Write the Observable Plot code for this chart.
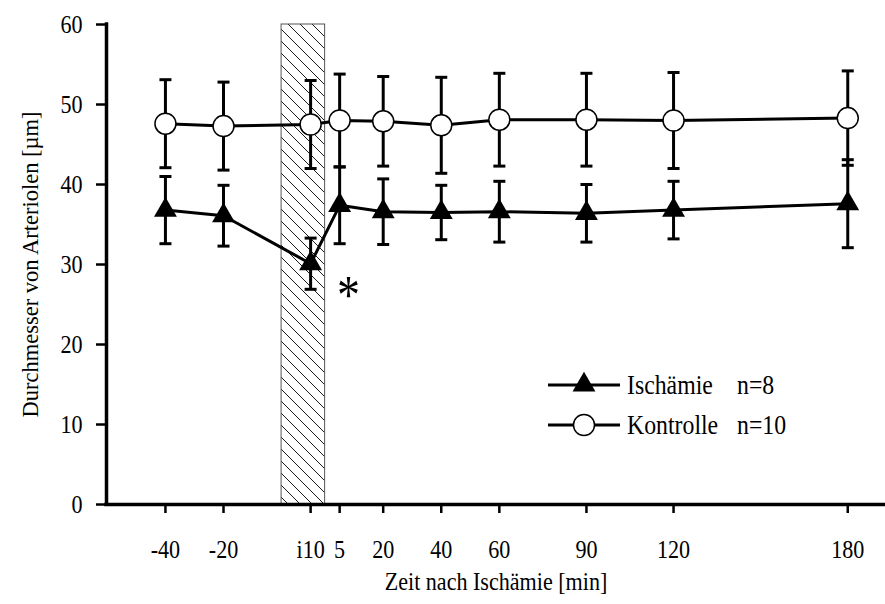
<!DOCTYPE html>
<html><head><meta charset="utf-8">
<script src="https://cdn.jsdelivr.net/npm/d3@7"></script>
<script src="https://cdn.jsdelivr.net/npm/@observablehq/plot@0.6"></script>
<style>
html,body{margin:0;padding:0;background:#fff;}
#chart{position:relative;width:885px;height:604px;}
#legend{position:absolute;left:0;top:0;pointer-events:none;}
</style></head><body><div id="chart"></div>
<script>
// elapsed time positions (min) and their printed labels
const times = [-40, -20, 10, 20, 35, 55, 75, 105, 135, 195];
const tickLabels = ["-40","-20","i10","5","20","40","60","90","120","180"];
const kontrolleMean = [47.6, 47.3, 47.5, 48.0, 47.9, 47.4, 48.1, 48.1, 48.0, 48.3];
const kontrolleSD   = [5.5, 5.5, 5.5, 5.8, 5.6, 6.0, 5.8, 5.8, 6.0, 5.9];
const ischaemieMean = [36.8, 36.1, 30.1, 37.4, 36.6, 36.5, 36.6, 36.4, 36.8, 37.6];
const ischaemieSD   = [4.2, 3.8, 3.2, 4.8, 4.1, 3.4, 3.8, 3.6, 3.6, 5.5];
const ischemiaPeriod = [{start: 0, end: 15, low: 0, high: 60}];
const significance = [{t: 23, v: 26.1, label: "*"}];
const seriesNames = ["Ischämie", "Kontrolle"];
const seriesN = ["n=8", "n=10"];
const yTicks = [0, 10, 20, 30, 40, 50, 60];
const xDomain = [-60.3, 208];
const yDomain = [0, 60];

const rowsK = times.map((t, i) => ({t, m: kontrolleMean[i], sd: kontrolleSD[i]}));
const rowsI = times.map((t, i) => ({t, m: ischaemieMean[i], sd: ischaemieSD[i]}));
const labelOf = new Map(times.map((t, i) => [t, tickLabels[i]]));
const cap = {draw(ctx, size) { ctx.moveTo(-6, 0); ctx.lineTo(6, 0); }};
const font = "'Liberation Serif', 'Times New Roman', serif";
const FS = 26;       // glyph size
const SX = 0.85;     // horizontal squeeze of the reference picture

function bars(rows) {
  return [
    Plot.ruleX(rows, {x: "t", y1: d => d.m - d.sd, y2: d => d.m + d.sd, stroke: "black", strokeWidth: 3}),
    Plot.dot(rows, {x: "t", y: d => d.m + d.sd, symbol: cap, stroke: "black", strokeWidth: 3, r: 6}),
    Plot.dot(rows, {x: "t", y: d => d.m - d.sd, symbol: cap, stroke: "black", strokeWidth: 3, r: 6})
  ];
}

const plot = Plot.plot({
  width: 885, height: 604,
  marginLeft: 106, marginRight: 0, marginTop: 24, marginBottom: 100,
  style: {fontFamily: font, fontSize: FS + "px", background: "white", color: "black", overflow: "visible"},
  x: {type: "linear", domain: xDomain},
  y: {domain: yDomain},
  marks: [
    Plot.rect(ischemiaPeriod, {x1: "start", x2: "end", y1: "low", y2: "high", fill: "url(#hatch)", stroke: "#555", strokeWidth: 1}),
    Plot.axisX({ticks: times, tickFormat: d => labelOf.get(d), tickSize: 9, tickPadding: 26, strokeWidth: 2.5, fontSize: FS, label: null}),
    Plot.axisY({ticks: yTicks, tickSize: 10, tickPadding: 14, strokeWidth: 2.5, fontSize: FS, label: null}),
    Plot.ruleY([yDomain[0]], {stroke: "black", strokeWidth: 3.5, strokeLinecap: "square"}),
    Plot.ruleX([xDomain[0]], {stroke: "black", strokeWidth: 3.5, strokeLinecap: "square"}),
    ...bars(rowsK),
    ...bars(rowsI),
    Plot.line(rowsK, {x: "t", y: "m", stroke: "black", strokeWidth: 3}),
    Plot.line(rowsI, {x: "t", y: "m", stroke: "black", strokeWidth: 3}),
    Plot.dot(rowsK, {x: "t", y: "m", r: 10.5, fill: "white", stroke: "black", strokeWidth: 1.5}),
    Plot.dot(rowsI, {x: "t", y: "m", r: 8.5, symbol: "triangle", fill: "black", stroke: "none"}),
    Plot.text(significance, {x: "t", y: "v", text: "label", fontSize: 54, fill: "black"}),
    Plot.text(["Zeit nach Ischämie [min]"], {frameAnchor: "bottom", dy: 85, fontSize: FS, fill: "black"}),
    Plot.text(["Durchmesser von Arteriolen [µm]"], {frameAnchor: "left", textAnchor: "middle", dx: -76, rotate: -90, fontSize: 22.5, fill: "black"})
  ]
});

// hatch pattern for the ischemia period
const ns = "http://www.w3.org/2000/svg";
const defs = document.createElementNS(ns, "defs");
defs.innerHTML = '<pattern id="hatch" patternUnits="userSpaceOnUse" width="12" height="12">' +
  '<path d="M0,0L12,12M-3,9L3,15M9,-3L15,3" stroke="black" stroke-width="0.9" fill="none"/></pattern>';
plot.insertBefore(defs, plot.firstChild);

// squeeze horizontal texts like the reference picture
function squeeze(root) {
  root.querySelectorAll("text").forEach(t => {
    const tr = t.getAttribute("transform") || "";
    if (tr.includes("rotate")) return;
    const x = +(t.getAttribute("x") || 0);
    t.setAttribute("transform", `${tr} translate(${x},0) scale(${SX},1) translate(${-x},0)`);
  });
}
squeeze(plot);

const chart = document.getElementById("chart");
chart.appendChild(plot);

// legend overlay
const leg = d3.select(chart).append("svg").attr("id", "legend").attr("width", 885).attr("height", 604)
  .style("font-family", font).style("font-size", "28px");
const rowY = [385, 425];
seriesNames.forEach((name, i) => {
  const g = leg.append("g").attr("transform", `translate(0,${rowY[i]})`);
  g.append("line").attr("x1", 548).attr("x2", 620).attr("stroke", "black").attr("stroke-width", 3);
  if (i === 0) {
    g.append("path").attr("transform", "translate(584,0)")
      .attr("d", d3.symbol(d3.symbolTriangle, 8.5 * 8.5 * Math.PI)()).attr("fill", "black");
  } else {
    g.append("circle").attr("cx", 584).attr("r", 10.5).attr("fill", "white").attr("stroke", "black").attr("stroke-width", 1.5);
  }
  g.append("text").attr("x", 627).attr("dy", "0.32em").text(name);
  g.append("text").attr("x", 737).attr("dy", "0.32em").text(seriesN[i]);
});
squeeze(leg.node());
</script></body></html>
